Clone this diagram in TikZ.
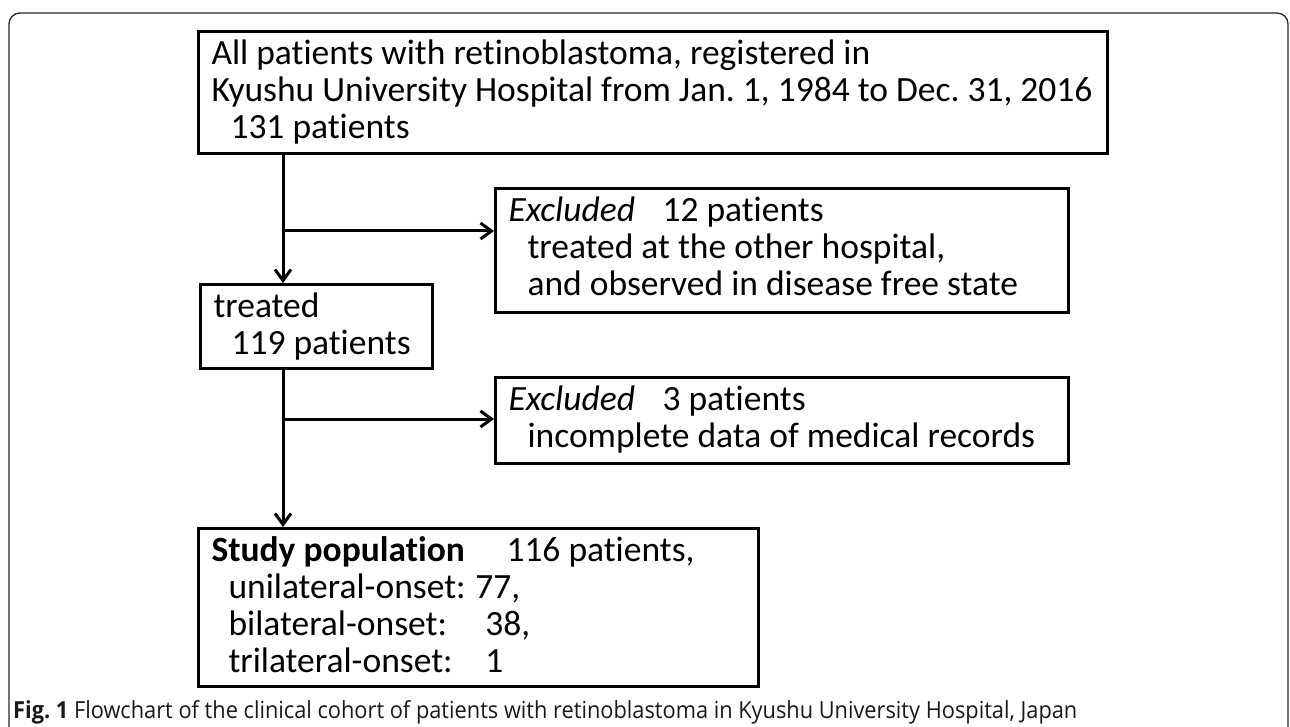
\documentclass[tikz,border=0pt]{standalone}
\usepackage{fontspec}
\usepackage{graphicx}
\setmainfont{Carlito}[Ligatures={NoCommon}]
\newfontfamily\capfont{Open Sans}[Ligatures={NoCommon}]
\usetikzlibrary{arrows.meta}
\frenchspacing
\newcommand\bxt[3]{\begin{minipage}[t][#2pt][t]{#1pt}\fontsize{35.5}{37}\selectfont\frenchspacing\setlength\parindent{0pt}\leftskip=13pt\rule{0pt}{33pt}#3\end{minipage}}
\begin{document}
\begin{tikzpicture}[x=1pt,y=-1pt,
  box/.style={draw=black, line width=3pt, inner sep=0pt, anchor=north west, text=black},
  arr/.style={line width=3pt, -{Straight Barb[length=11pt,width=16pt,line width=3pt]}},
  frame/.style={line width=1.3pt, draw=black!85, rounded corners=11pt}]
\useasboundingbox (0,0) rectangle (1290,727);
\draw[frame] (9,735) -- (9,13) -- (1288,13) -- (1288,735);

\node[box] (b1) at (197,30) {\bxt{909}{122}{All patients with retinoblastoma, registered in\\
Kyushu University Hospital from Jan. 1, 1984 to Dec. 31, 2016\\
\hspace*{19pt}131 patients}};

\node[box] (ex1) at (494,187) {\bxt{573}{124}{\makebox[154pt][l]{\textit{Excluded}}12 patients\\
\hspace*{19pt}treated at the other hospital,\\
\hspace*{19pt}and observed in disease free state}};

\node[box] (tr) at (199,283) {\bxt{232}{84}{treated\\
\hspace*{18pt}119 patients}};

\node[box] (ex2) at (494,376) {\bxt{573}{86}{\makebox[154pt][l]{\textit{Excluded}}3 patients\\
\hspace*{19pt}incomplete data of medical records}};

\node[box] (st) at (197,527) {\bxt{560}{158}{\makebox[295pt][l]{\textbf{Study population}}116 patients,\\
\hspace*{17pt}\makebox[247pt][l]{unilateral-onset:}77,\\
\hspace*{17pt}\makebox[257pt][l]{bilateral-onset:}38,\\
\hspace*{17pt}\makebox[257pt][l]{trilateral-onset:}1}};

\coordinate (j1) at (283,231);
\coordinate (j2) at (283,419);
\draw[arr] (j1 |- b1.south) -- (j1 |- tr.north);
\draw[arr] (j1) -- (j1 -| ex1.west);
\draw[arr] (j2 |- tr.south) -- (j2 |- st.north);
\draw[arr] (j2) -- (j2 -| ex2.west);

\node[anchor=base west, inner sep=0pt, text=black!90] (cap) at (13,718) {\resizebox{1064pt}{\height}{\capfont\fontsize{23.5}{28}\selectfont\textbf{Fig. 1} Flowchart of the clinical cohort of patients with retinoblastoma in Kyushu University Hospital, Japan}};
\end{tikzpicture}
\end{document}
